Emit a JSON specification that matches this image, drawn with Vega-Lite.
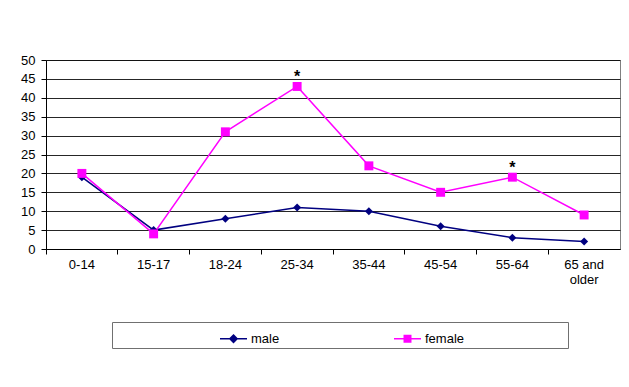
{
  "$schema": "https://vega.github.io/schema/vega-lite/v6.json",
  "width": 574,
  "height": 189,
  "autosize": "none",
  "padding": {"left": 46, "top": 60, "right": 9, "bottom": 138},
  "background": "white",
  "config": {
    "font": "Liberation Sans",
    "view": {"stroke": "#808080", "strokeWidth": 1},
    "axis": {"labelColor": "black", "labelFontSize": 13, "domainColor": "black", "tickColor": "black", "ticks": true, "labelFont": "Liberation Sans"},
    "legend": {"labelFont": "Liberation Sans", "titleFont": "Liberation Sans"}
  },
  "data": {"values": [
    {"age": "0-14", "sex": "male", "value": 19, "note": ""},
    {"age": "15-17", "sex": "male", "value": 5, "note": ""},
    {"age": "18-24", "sex": "male", "value": 8, "note": ""},
    {"age": "25-34", "sex": "male", "value": 11, "note": ""},
    {"age": "35-44", "sex": "male", "value": 10, "note": ""},
    {"age": "45-54", "sex": "male", "value": 6, "note": ""},
    {"age": "55-64", "sex": "male", "value": 3, "note": ""},
    {"age": "65 and older", "sex": "male", "value": 2, "note": ""},
    {"age": "0-14", "sex": "female", "value": 20, "note": ""},
    {"age": "15-17", "sex": "female", "value": 4, "note": ""},
    {"age": "18-24", "sex": "female", "value": 31, "note": ""},
    {"age": "25-34", "sex": "female", "value": 43, "note": "*"},
    {"age": "35-44", "sex": "female", "value": 22, "note": ""},
    {"age": "45-54", "sex": "female", "value": 15, "note": ""},
    {"age": "55-64", "sex": "female", "value": 19, "note": "*"},
    {"age": "65 and older", "sex": "female", "value": 9, "note": ""}
  ]},
  "encoding": {
    "x": {
      "field": "age", "type": "nominal",
      "sort": ["0-14", "15-17", "18-24", "25-34", "35-44", "45-54", "55-64", "65 and older"],
      "scale": {"type": "band", "paddingInner": 0, "paddingOuter": 0},
      "axis": {
        "title": null, "labelAngle": 0, "bandPosition": 0, "ticks": true,
        "tickSize": 5, "labelPadding": 4, "labelLineHeight": 15, "labelBaseline": "top",
        "labelExpr": "datum.label == '65 and older' ? ['65 and', 'older'] : datum.label"
      }
    },
    "y": {
      "field": "value", "type": "quantitative",
      "scale": {"domain": [0, 50], "nice": false},
      "axis": {
        "title": null, "values": [0, 5, 10, 15, 20, 25, 30, 35, 40, 45, 50], "ticks": true,
        "grid": true, "gridColor": "black", "gridOpacity": 0.85, "gridWidth": 1,
        "tickSize": 5, "labelPadding": 6
      }
    }
  },
  "layer": [
    {
      "mark": {"type": "line", "strokeWidth": 1.5},
      "encoding": {
        "color": {"field": "sex", "type": "nominal", "scale": {"domain": ["male", "female"], "range": ["#000080", "#FF00FF"]},
          "legend": {
            "orient": "none", "legendX": 66, "legendY": 262, "direction": "horizontal",
            "title": "\u00a0", "titleOrient": "left", "titlePadding": 105, "titleFontSize": 13,
            "padding": 2, "strokeColor": "#707070",
            "symbolSize": 729, "symbolStrokeWidth": 1.5, "labelOffset": 3, "columnPadding": 111,
            "labelFontSize": 13, "labelColor": "black", "labelLimit": 300,
            "encode": {"symbols": {"update": {
              "shape": {"signal": "datum.value == 'male' ? 'M -1 0 L 1 0 M 0 -0.27 L 0.27 0 L 0 0.27 L -0.27 0 Z' : 'M -1 0 L 1 0 M -0.24 -0.24 L 0.24 -0.24 L 0.24 0.24 L -0.24 0.24 Z M 11.5 0'"},
              "fill": {"signal": "datum.value == 'male' ? '#000080' : '#FF00FF'"},
              "stroke": {"signal": "datum.value == 'male' ? '#000080' : '#FF00FF'"},
              "strokeWidth": {"value": 1.5},
              "opacity": {"value": 1}
            }}}
          }},
        "detail": {"field": "sex"}
      }
    },
    {
      "transform": [{"filter": "datum.sex == 'male'"}],
      "mark": {"type": "point", "shape": "diamond", "filled": true, "opacity": 1, "size": 64, "color": "#000080"}
    },
    {
      "transform": [{"filter": "datum.sex == 'female'"}],
      "mark": {"type": "point", "shape": "square", "filled": true, "opacity": 1, "size": 80, "color": "#FF00FF"}
    },
    {
      "transform": [{"filter": "datum.note != ''"}],
      "mark": {"type": "text", "fontSize": 16, "fontWeight": "bold", "baseline": "alphabetic", "dy": -4, "color": "black"},
      "encoding": {"text": {"field": "note"}}
    }
  ]
}
